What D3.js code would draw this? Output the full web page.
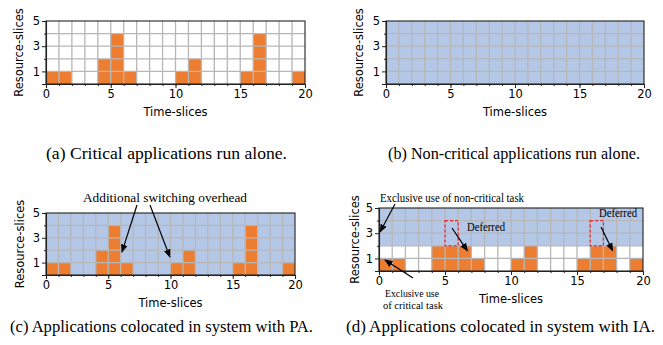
<!DOCTYPE html>
<html><head><meta charset="utf-8">
<script src="https://cdn.jsdelivr.net/npm/d3@7"></script>
<style>body{margin:0;background:#fff}svg{display:block}</style>
</head><body>
<svg id="c" width="663" height="345"></svg>
<script>
// ---------- data ----------
const timeSlices = [0,1,2,3,4,5,6,7,8,9,10,11,12,13,14,15,16,17,18,19];
const criticalAlone = [1,1,0,0,2,4,1,0,0,0,1,2,0,0,0,1,4,0,0,1];
const criticalIA    = [1,1,0,0,2,2,2,1,0,0,1,2,0,0,0,1,2,2,0,1];
const xTickLabels = [0,5,10,15,20];
const yTickLabels = [1,3,5];
const captions = [
  "(a) Critical applications run alone.",
  "(b) Non-critical applications run alone.",
  "(c) Applications colocated in system with PA.",
  "(d) Applications colocated in system with IA."
];
const deferredBoxes = [{x0:5,x1:6,y0:2,y1:4},{x0:16,x1:17,y0:2,y1:4}];

const BLUE = "#b4c7e7", ORANGE = "#ed7d31", GRID = "#b7b7b7";
const svg = d3.select("#c");
const defs = svg.append("defs");
defs.append("marker").attr("id","arr").attr("viewBox","0 0 10 10").attr("refX",9).attr("refY",5)
  .attr("markerWidth",7).attr("markerHeight",7).attr("orient","auto-start-reverse")
  .append("path").attr("d","M0,1 L10,5 L0,9 z").attr("fill","#000");

function panel(o){
  const g = svg.append("g");
  const x = d3.scaleLinear().domain([0,20]).range([o.x0,o.x1]);
  const y = d3.scaleLinear().domain([0,5]).range([o.y1,o.y0]);
  if (o.bgFrom !== null) {
    g.append("rect").attr("x",x(0)).attr("width",x(20)-x(0))
      .attr("y",y(5)).attr("height",y(o.bgFrom)-y(5)).attr("fill",BLUE);
  }
  if (o.bars) {
    g.selectAll("rect.bar").data(timeSlices.map((t,i)=>({t,v:o.bars[i]})).filter(d=>d.v>0))
      .join("rect").attr("class","bar")
      .attr("x",d=>x(d.t)).attr("width",d=>x(d.t+1)-x(d.t))
      .attr("y",d=>y(d.v)).attr("height",d=>y(0)-y(d.v)).attr("fill",ORANGE);
  }
  g.append("g").selectAll("line").data(d3.range(1,20)).join("line")
    .attr("x1",d=>x(d)).attr("x2",d=>x(d)).attr("y1",y(0)).attr("y2",y(5))
    .attr("stroke",GRID).attr("stroke-width",1.3);
  g.append("g").selectAll("line").data(d3.range(1,5)).join("line")
    .attr("y1",d=>y(d)).attr("y2",d=>y(d)).attr("x1",x(0)).attr("x2",x(20))
    .attr("stroke",GRID).attr("stroke-width",1.3);
  g.append("rect").attr("x",x(0)).attr("y",y(5)).attr("width",x(20)-x(0)).attr("height",y(0)-y(5))
    .attr("fill","none").attr("stroke","#222").attr("stroke-width",1.1);
  const fs = o.fs || 11.5;
  g.append("g").attr("transform",`translate(0,${y(0)})`)
    .call(d3.axisBottom(x).tickValues(xTickLabels).tickSize(4).tickPadding(2).tickFormat(d3.format("d")));
  g.append("g").attr("transform",`translate(0,${y(0)})`)
    .call(d3.axisBottom(x).tickValues(d3.range(0,21)).tickSize(2).tickFormat(""))
    .call(s=>s.select(".domain").remove());
  g.append("g").attr("transform",`translate(${x(0)},0)`)
    .call(d3.axisLeft(y).tickValues(yTickLabels).tickSize(4).tickPadding(2).tickFormat(d3.format("d")));
  g.append("g").attr("transform",`translate(${x(0)},0)`)
    .call(d3.axisLeft(y).tickValues([0,2,4]).tickSize(2).tickFormat(""))
    .call(s=>s.select(".domain").remove());
  g.selectAll(".tick text").attr("font-family","DejaVu Sans").attr("font-size",fs).attr("fill","#000");
  g.selectAll(".domain").attr("stroke","#222").attr("stroke-width",1.1);
  g.selectAll(".tick line").attr("stroke","#222");
  g.append("text").attr("x",(x(0)+x(20))/2).attr("y",y(0)+32).attr("text-anchor","middle")
    .attr("font-family","DejaVu Sans").attr("font-size",fs).text("Time-slices");
  g.append("text").attr("transform",`translate(${o.x0-o.ylOff},${(y(0)+y(5))/2}) rotate(-90)`)
    .attr("text-anchor","middle").attr("font-family","DejaVu Sans").attr("font-size",fs).text("Resource-slices");
  g.append("text").attr("x",o.capX).attr("y",o.capY).attr("text-anchor","middle")
    .attr("font-family","Liberation Serif").attr("font-size",16)
    .attr("textLength",o.capW).attr("lengthAdjust","spacingAndGlyphs").text(o.caption);
  return {g,x,y};
}

panel({x0:46,x1:305,y0:21,y1:84,ylOff:23,bgFrom:null,bars:criticalAlone,caption:captions[0],capX:166.5,capY:159,capW:241});
panel({x0:386,x1:644,y0:21,y1:84,ylOff:23,bgFrom:0,bars:null,caption:captions[1],capX:514,capY:159,capW:252});
const pc = panel({x0:46,x1:295,y0:213,y1:275,ylOff:22,bgFrom:0,bars:criticalAlone,caption:captions[2],capX:161.5,capY:332,capW:303});
const pd = panel({x0:379,x1:643,y0:208,y1:271,ylOff:20,bgFrom:2,bars:criticalIA,caption:captions[3],capX:500.5,capY:332,capW:309});

const serif = "Liberation Serif";
pc.g.append("text").attr("x",165).attr("y",202).attr("text-anchor","middle")
  .attr("font-family",serif).attr("font-size",13.5).attr("textLength",164).attr("lengthAdjust","spacingAndGlyphs")
  .text("Additional switching overhead");
function arrow(g,x1,y1,x2,y2){
  g.append("line").attr("x1",x1).attr("y1",y1).attr("x2",x2).attr("y2",y2)
    .attr("stroke","#000").attr("stroke-width",1.2).attr("marker-end","url(#arr)");
}
arrow(pc.g,137,205,pc.x(6.1),pc.y(1.85));
arrow(pc.g,150,205,pc.x(9.95),pc.y(1.45));

pd.g.selectAll("rect.def").data(deferredBoxes).join("rect").attr("class","def")
  .attr("x",d=>pd.x(d.x0)).attr("width",d=>pd.x(d.x1)-pd.x(d.x0))
  .attr("y",d=>pd.y(d.y1)).attr("height",d=>pd.y(d.y0)-pd.y(d.y1))
  .attr("fill","none").attr("stroke","#e8232a").attr("stroke-width",1.2).attr("stroke-dasharray","3,2");
pd.g.append("text").attr("x",380).attr("y",202).attr("font-family",serif).attr("font-size",12)
  .attr("textLength",144).attr("lengthAdjust","spacingAndGlyphs").text("Exclusive use of non-critical task");
arrow(pd.g,395,204,pd.x(0.08),pd.y(3.1));
pd.g.append("text").attr("x",467).attr("y",231).attr("font-family",serif).attr("font-size",12)
  .attr("textLength",38).attr("lengthAdjust","spacingAndGlyphs").text("Deferred");
arrow(pd.g,452,228,pd.x(6.7),pd.y(1.6));
pd.g.append("text").attr("x",599).attr("y",217).attr("font-family",serif).attr("font-size",12)
  .attr("textLength",38).attr("lengthAdjust","spacingAndGlyphs").text("Deferred");
arrow(pd.g,601,227,pd.x(17.7),pd.y(1.6));
pd.g.append("text").attr("x",412).attr("y",297).attr("text-anchor","middle").attr("font-family",serif).attr("font-size",11)
  .attr("textLength",54).attr("lengthAdjust","spacingAndGlyphs").text("Exclusive use");
pd.g.append("text").attr("x",413).attr("y",309).attr("text-anchor","middle").attr("font-family",serif).attr("font-size",11)
  .attr("textLength",60).attr("lengthAdjust","spacingAndGlyphs").text("of critical task");
arrow(pd.g,413,278,pd.x(0.45),pd.y(0.87));
</script>
</body></html>
